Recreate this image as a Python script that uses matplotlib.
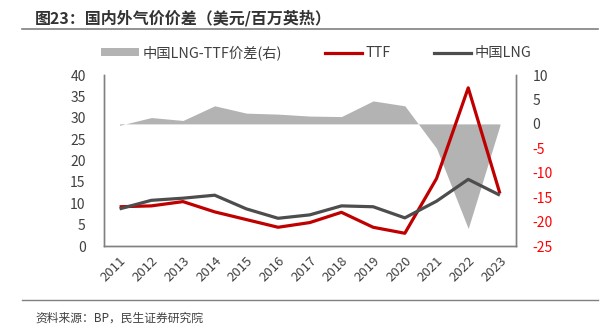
import numpy as np
import matplotlib
matplotlib.use("Agg")
import matplotlib.pyplot as plt
from matplotlib.patches import Patch
from matplotlib.lines import Line2D

plt.rcParams['font.family'] = ['Noto Sans CJK SC', 'DejaVu Sans']
plt.rcParams['axes.unicode_minus'] = False

# ==========================================================
# Data (USD / MMBtu)
# ==========================================================

years = ["2011", "2012", "2013", "2014", "2015", "2016", "2017",
         "2018", "2019", "2020", "2021", "2022", "2023"]

ttf = [9.2, 9.4, 10.4, 8.0, 6.2, 4.4, 5.5, 7.9, 4.4, 3.0, 15.8, 37.0, 12.3]

china_lng = [8.7, 10.7, 11.2, 11.9, 8.7, 6.5, 7.3, 9.4, 9.2, 6.6, 10.5, 15.6, 11.9]

spread = [-0.3, 1.3, 0.7, 3.7, 2.2, 2.0, 1.6, 1.5, 4.7, 3.7, -5.0, -21.4, -0.3]

RED = "#c00000"
NEG = "#ff0000"
DARK = "#4d4d4d"
AREA = "#b3b3b3"
TXT = "#404040"

# ==========================================================
# Figure
# ==========================================================

fig = plt.figure(figsize=(6.14, 3.29), dpi=100)

ax = fig.add_axes([0.169, 0.252, 0.671, 0.520])
ax2 = ax.twinx()

x = np.arange(len(years))

# Spread area on right axis
ax2.fill_between(x, 0, spread, color=AREA, linewidth=0)

# Lines on left axis
ax.plot(x, ttf, color=RED, linewidth=2.3, solid_capstyle="butt")
ax.plot(x, china_lng, color=DARK, linewidth=2.3, solid_capstyle="butt")

ax.set_zorder(ax2.get_zorder() + 1)
ax.patch.set_visible(False)

ax.set_xlim(-0.5, len(years) - 0.5)
ax.set_ylim(0, 40)
ax.set_yticks(np.arange(0, 41, 5))
ax2.set_ylim(-25, 10)
ax2.set_yticks(np.arange(-25, 11, 5))

ax.set_xticks(x)
ax.set_xticklabels(years, rotation=45, ha="right", rotation_mode="anchor")

for a in (ax, ax2):
    a.tick_params(length=0, labelsize=10, colors=TXT)
    a.spines["top"].set_visible(False)
    for s in ("left", "right", "bottom"):
        a.spines[s].set_color("#808080")
        a.spines[s].set_linewidth(1.0)

ax.tick_params(axis="x", pad=6, labelsize=9.5)
ax.tick_params(axis="y", pad=13)
ax2.tick_params(axis="y", pad=12)

for lbl, v in zip(ax2.get_yticklabels(), np.arange(-25, 11, 5)):
    lbl.set_color(NEG if v < 0 else TXT)

# Legend
handles = [
    Patch(facecolor=AREA, edgecolor="none"),
    Line2D([], [], color=RED, linewidth=2.3),
    Line2D([], [], color=DARK, linewidth=2.3),
]
labels = ["中国LNG-TTF价差(右)", "TTF", "中国LNG"]
fig.legend(handles, labels, loc="center", bbox_to_anchor=(0.515, 0.84),
           ncol=3, frameon=False, fontsize=10.3, handlelength=2.6,
           handleheight=0.5, handletextpad=0.25, columnspacing=3.0,
           labelcolor=TXT)

# Title and source
fig.text(0.057, 0.945, "图23：国内外气价价差（美元/百万英热）", fontsize=11.5,
         fontweight="bold", color="#333333", va="center", ha="left")
fig.add_artist(Line2D([0.036, 0.974], [0.913, 0.913], color="#808080",
                      linewidth=1.2, transform=fig.transFigure))
fig.add_artist(Line2D([0.036, 0.974], [0.088, 0.088], color="#808080",
                      linewidth=1.0, transform=fig.transFigure))
fig.text(0.057, 0.033, "资料来源：BP，民生证券研究院", fontsize=8.5,
         color=TXT, va="center", ha="left")

fig.savefig("out.png", dpi=100)
